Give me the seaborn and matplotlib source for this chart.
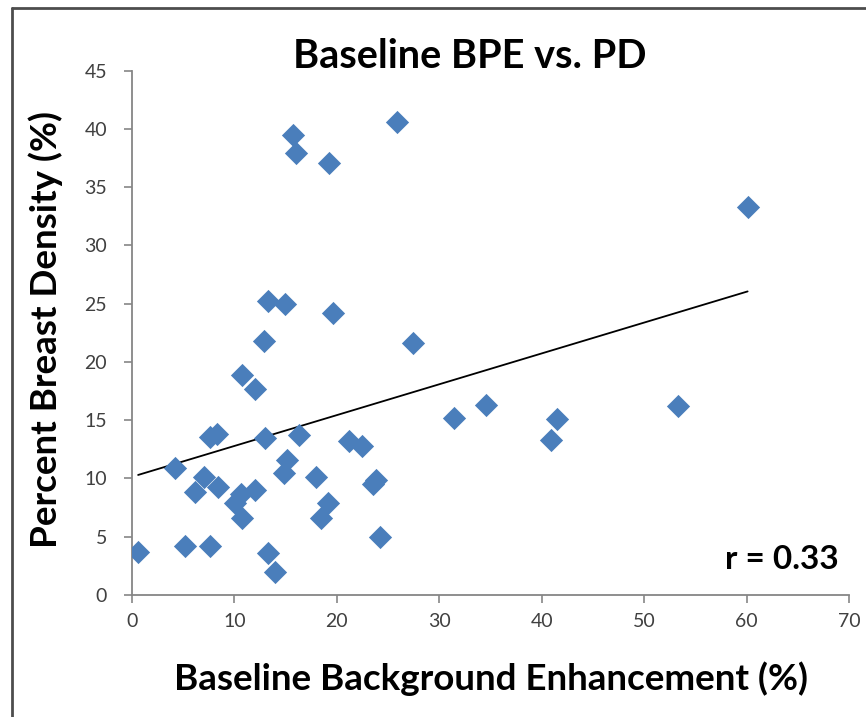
import matplotlib
matplotlib.use("Agg")
import matplotlib.pyplot as plt
from matplotlib.lines import Line2D
import seaborn as sns
import pandas as pd
import numpy as np

bpe = [0.6, 4.2, 5.2, 6.2, 7.0, 7.6, 8.3, 7.6, 8.4, 10.1, 10.6, 10.7, 10.7, 12.0,
       12.0, 12.9, 13.3, 13.0, 13.3, 14.0, 14.9, 15.1, 14.8, 15.7, 16.0, 16.3,
       18.0, 18.5, 19.1, 19.2, 19.6, 21.2, 22.5, 23.5, 23.8, 24.2, 25.9, 27.4,
       31.4, 34.6, 40.9, 41.5, 53.3, 60.1]
pd_density = [3.7, 10.9, 4.2, 8.8, 10.1, 13.6, 13.8, 4.2, 9.3, 7.9, 8.7, 6.6, 18.9, 17.7,
              9.0, 21.8, 25.2, 13.45, 3.6, 1.95, 24.95, 11.6, 10.5, 39.5, 37.9, 13.7,
              10.1, 6.6, 7.9, 37.1, 24.2, 13.2, 12.8, 9.5, 9.9, 5.0, 40.6, 21.6,
              15.2, 16.3, 13.3, 15.1, 16.2, 33.3]

x_ticks = [0, 10, 20, 30, 40, 50, 60, 70]
y_ticks = [0, 5, 10, 15, 20, 25, 30, 35, 40, 45]

title = "Baseline BPE vs. PD"
x_label = "Baseline Background Enhancement (%)"
y_label = "Percent Breast Density (%)"
r_text = "r = 0.33"

df = pd.DataFrame({"bpe": bpe, "pd": pd_density})

sns.set_style("white")
plt.rcParams['font.family'] = ['Lato', 'DejaVu Sans']

fig = plt.figure(figsize=(8.66, 7.17), dpi=100)
ax = fig.add_axes([0.1524, 0.1702, 0.828, 0.7312])

sns.regplot(data=df, x="bpe", y="pd", ax=ax, ci=None, marker="D",
            scatter_kws=dict(s=140, color="#4A7EBB", linewidths=0, alpha=1, zorder=3),
            line_kws=dict(color="black", lw=1.3, zorder=2))

ax.set_xlim(0, 70)
ax.set_ylim(0, 45)
ax.set_xticks(x_ticks)
ax.set_yticks(y_ticks)
ax.tick_params(axis="both", direction="out", length=6, width=1.2, color="#868686",
               labelsize=14, labelcolor="#404040")
ax.tick_params(axis="y", pad=12)
ax.tick_params(axis="x", pad=7)
ax.tick_params(left=True, bottom=True)
for s in ["top", "right"]:
    ax.spines[s].set_visible(False)
for s in ["left", "bottom"]:
    ax.spines[s].set_color("#868686")
    ax.spines[s].set_linewidth(1.3)

ax.set_xlabel("")
ax.set_ylabel("")
fig.text(491 / 866, 1 - 679 / 717, x_label, ha="center", va="center",
         fontsize=26.5, fontweight="bold", color="black")
fig.text(46 / 866, 1 - 330 / 717, y_label, ha="center", va="center",
         rotation=90, fontsize=26.5, fontweight="bold", color="black")
fig.text(470 / 866, 1 - 57 / 717, title, ha="center", va="center",
         fontsize=28.5, fontweight="bold", color="black")
ax.text(0.985, 0.04, r_text, transform=ax.transAxes, ha="right", va="bottom",
        fontsize=24, fontweight="bold", color="black")

# outer frame edges (top and left)
fig.add_artist(Line2D([12 / 866, 1.0], [1 - 8 / 717, 1 - 8 / 717], transform=fig.transFigure,
                      color="#4d4d4d", lw=2))
fig.add_artist(Line2D([12 / 866, 12 / 866], [0.0, 1 - 8 / 717], transform=fig.transFigure,
                      color="#4d4d4d", lw=2))

fig.savefig("out.png", dpi=100)
